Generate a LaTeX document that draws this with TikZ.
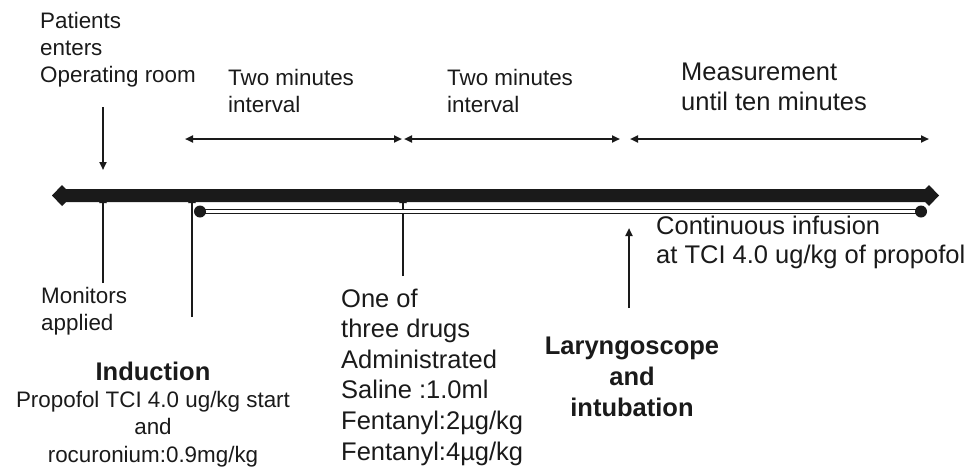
\documentclass[tikz,border=0pt]{standalone}
\usepackage{fontspec}
\setmainfont{Liberation Sans}
\usetikzlibrary{arrows.meta,calc}
\definecolor{ink}{HTML}{1A1A1A}
\begin{document}
\begin{tikzpicture}[x=1pt,y=-1pt,
  lbl/.style={inner sep=0pt, align=left, anchor=base west, text=ink, font=\fontsize{22.4}{26.7}\selectfont},
  lblbig/.style={lbl, font=\fontsize{25.5}{30.6}\selectfont},
  tipdown/.style={-{Triangle[length=8pt,width=7pt]}, line width=2pt, draw=ink},
  tick/.style={-{Triangle[length=10pt,width=7pt]}, line width=2pt, draw=ink},
  span/.style={{Triangle[length=8pt,width=7pt]}-{Triangle[length=8pt,width=7pt]}, line width=2pt, draw=ink},
]
\useasboundingbox (0,0) rectangle (980,469);

% texts (anchored at the baseline of their last line)
\node[lbl] (pat) at (40,82) {Patients\\enters\\Operating room};
\node[lbl] (two1) at (228,112) {Two minutes\\interval};
\node[lbl] (two2) at (447,112) {Two minutes\\interval};
\node[lblbig, font=\fontsize{25.5}{30}\selectfont] (meas) at (681,110) {Measurement\\until ten minutes};
\node[lbl] (mon) at (41,330) {Monitors\\applied};
\node[lbl, align=center, anchor=base, font=\fontsize{22.4}{27.3}\selectfont] (ind) at (153,462)
  {{\fontsize{25.5}{27.3}\selectfont\bfseries Induction}\\Propofol TCI 4.0 ug/kg start\\and\\rocuronium:0.9mg/kg};
\node[lblbig] (one) at (341,460) {One of\\three drugs\\Administrated\\Saline :1.0ml\\Fentanyl:2µg/kg\\Fentanyl:4µg/kg};
\node[lblbig, font=\fontsize{25.5}{28.5}\selectfont] (cont) at (656,263) {Continuous infusion\\at TCI 4.0 ug/kg of propofol};
\node[lblbig, align=center, anchor=base, font=\fontsize{25.5}{31}\selectfont\bfseries] (lar) at (632,416) {Laryngoscope\\and\\intubation};

% coordinates
\coordinate (bl) at (52,195.5);
\coordinate (br) at (939,195.5);
\coordinate (d1) at (200,211.5);
\coordinate (d2) at (921,211.5);
\coordinate (pa1) at (103,107);
\coordinate (pa2) at (103,170);
\coordinate (mo1) at (103,283);
\coordinate (mo2) at (103,193);
\coordinate (in1) at (192,317);
\coordinate (in2) at (192,193);
\coordinate (on1) at (403,276);
\coordinate (on2) at (403,193);
\coordinate (la1) at (629,308);
\coordinate (la2) at (629,228);
\coordinate (s1a) at (185,139);
\coordinate (s1b) at (402,139);
\coordinate (s2a) at (404,139);
\coordinate (s2b) at (620,139);
\coordinate (s3a) at (630,139);
\coordinate (s3b) at (929,139);

% vertical ticks (tips mostly hidden in bar)
\draw[tick] (mo1) -- (mo2);
\draw[tick] (in1) -- (in2);
\draw[tick] (on1) -- (on2);

% main bar with diamond ends
\fill[ink] (bl) -- ++(10,-10.5) -- ++(4,4) -- ($(br)+(-14,-6.5)$) -- ++(4,-4) -- (br)
  -- ++(-10,10.5) -- ++(-4,-4) -- ($(bl)+(14,6.5)$) -- ++(-4,4) -- cycle;

% double line with dots
\draw[ink, double=white, double distance=2.6pt, line width=1.3pt] (d1) -- (d2);
\fill[ink] (d1) circle[radius=6pt];
\fill[ink] (d2) circle[radius=6pt];

% arrows
\draw[tipdown] (pa1) -- (pa2);
\draw[tipdown] (la1) -- (la2);
\draw[span] (s1a) -- (s1b);
\draw[span] (s2a) -- (s2b);
\draw[span] (s3a) -- (s3b);
\end{tikzpicture}
\end{document}
